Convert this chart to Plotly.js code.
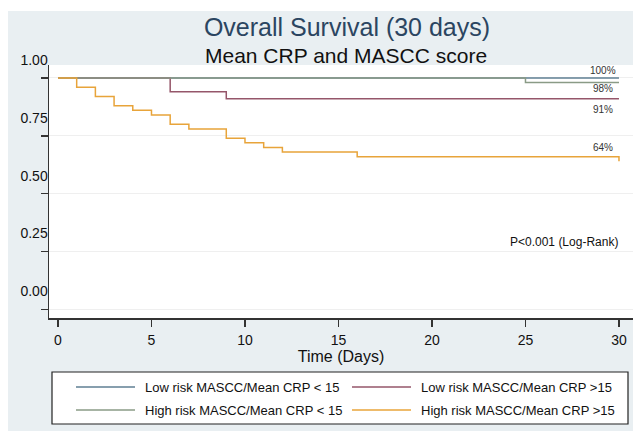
<!DOCTYPE html>
<html>
<head>
<meta charset="utf-8">
<script src="https://cdn.plot.ly/plotly-3.0.1.min.js"></script>
<style>html,body{margin:0;padding:0;background:#fff;}#chart{width:633px;height:431px;}</style>
</head>
<body>
<div id="chart"></div>
<script>
// ---- data ----
var seriesNames = [
  "Low risk MASCC/Mean CRP < 15",
  "Low risk MASCC/Mean CRP >15",
  "High risk MASCC/Mean CRP < 15",
  "High risk MASCC/Mean CRP >15"
];
var lowLowDays = [0, 30];
var lowLowSurv = [1.00, 1.00];
var lowHighDays = [0, 6, 9, 30];
var lowHighSurv = [1.00, 0.94, 0.91, 0.91];
var highLowDays = [0, 25, 30];
var highLowSurv = [1.00, 0.98, 0.98];
var highHighDays = [0, 1, 2, 3, 4, 5, 6, 7, 9, 10, 11, 12, 16, 30];
var highHighSurv = [1.00, 0.96, 0.92, 0.88, 0.86, 0.84, 0.80, 0.78, 0.74, 0.72, 0.70, 0.68, 0.66, 0.64];
var xTicks = [0, 5, 10, 15, 20, 25, 30];
var yTicks = [0, 0.25, 0.5, 0.75, 1];
var yTickText = ["0.00", "0.25", "0.50", "0.75", "1.00"];
var titleText = "Overall Survival (30 days)";
var subtitleText = "Mean CRP and MASCC score";
var xTitle = "Time (Days)";
var pText = "P<0.001 (Log-Rank)";

// ---- styles ----
var colors = ["#5f7f93", "#95566a", "#8a9b86", "#e8a43a"];
var labelShift = [7, -11, -6, 14];
var FONT = "Liberation Sans, Arial, sans-serif";
// legend entry pixel slots (column line start, row centre)
var legCols = [76, 352];
var legRows = [387, 410];

var xs = [lowLowDays, lowHighDays, highLowDays, highHighDays];
var ys = [lowLowSurv, lowHighSurv, highLowSurv, highHighSurv];

var traces = seriesNames.map(function (n, i) {
  return {
    type: "scatter", mode: "lines", name: n,
    x: xs[i], y: ys[i],
    line: {shape: "hv", color: colors[i], width: 1.5},
    hoverinfo: "skip", showlegend: false
  };
});

var W = 633, H = 431, mL = 49, mR = 0, mT = 65, mB = 113;
var pw = W - mL - mR, ph = H - mT - mB;
function px2x(p) { return (p - mL) / pw; }
function py2y(p) { return (H - mB - p) / ph; }

var annotations = [];
ys.forEach(function (arr, i) {
  var last = arr[arr.length - 1];
  annotations.push({
    x: 29.15, y: last, xref: "x", yref: "y",
    text: Math.round(last * 100) + "%", showarrow: false,
    xanchor: "center", yanchor: "middle", yshift: labelShift[i],
    font: {family: FONT, size: 10, color: "#333"}
  });
});
annotations.push({
  x: 30.05, y: 0.29, xref: "x", yref: "y", text: pText, showarrow: false,
  xanchor: "right", yanchor: "middle",
  font: {family: FONT, size: 12, color: "#111"}
});
annotations.push({
  x: px2x(346), y: py2y(55), xref: "paper", yref: "paper", text: subtitleText,
  showarrow: false, xanchor: "center", yanchor: "middle",
  font: {family: FONT, size: 21, color: "#111"}
});

var shapes = [
  // white outer border strips
  {type: "rect", xref: "paper", yref: "paper", x0: px2x(0), x1: px2x(W), y0: py2y(11), y1: py2y(0),
   fillcolor: "#ffffff", line: {width: 0}, layer: "above"},
  {type: "rect", xref: "paper", yref: "paper", x0: px2x(0), x1: px2x(8), y0: py2y(H), y1: py2y(0),
   fillcolor: "#ffffff", line: {width: 0}, layer: "above"},
  // legend box
  {type: "rect", xref: "paper", yref: "paper", x0: px2x(52), x1: px2x(628), y0: py2y(424), y1: py2y(372),
   fillcolor: "#ffffff", line: {width: 1.2, color: "#222"}, layer: "below"}
];

// legend entries (row-wise: 2 columns)
seriesNames.forEach(function (n, i) {
  var cx = legCols[i % 2], cy = legRows[Math.floor(i / 2)];
  shapes.push({
    type: "line", xref: "paper", yref: "paper",
    x0: px2x(cx), x1: px2x(cx + 59), y0: py2y(cy), y1: py2y(cy),
    line: {color: colors[i], width: 1.5}
  });
  annotations.push({
    x: px2x(cx + 67), y: py2y(cy), xref: "paper", yref: "paper", text: n,
    showarrow: false, xanchor: "left", yanchor: "middle",
    font: {family: FONT, size: 13, color: "#111"}
  });
});

var layout = {
  width: W, height: H,
  margin: {l: mL, r: mR, t: mT, b: mB, pad: 0},
  paper_bgcolor: "#e9eff2",
  plot_bgcolor: "#ffffff",
  font: {family: FONT, size: 14, color: "#111"},
  showlegend: false,
  title: {
    text: titleText, xref: "paper", x: px2x(347), xanchor: "center",
    yref: "container", y: 1 - 27 / H, yanchor: "middle",
    font: {family: FONT, size: 25, color: "#2b4561"}
  },
  xaxis: {
    range: [-0.48, 30.75], tickvals: xTicks, ticks: "outside", ticklen: 7, tickwidth: 1.5,
    tickcolor: "#333", showline: true, linecolor: "#333", linewidth: 1.5,
    showgrid: false, zeroline: false, ticklabelstandoff: 2,
    tickfont: {family: FONT, size: 14, color: "#111"},
    title: {text: xTitle, standoff: 0, font: {family: FONT, size: 16, color: "#111"}}
  },
  yaxis: {
    range: [-0.037, 1.056], tickvals: yTicks, ticktext: yTickText,
    ticks: "outside", ticklen: 7, tickwidth: 1.5, tickcolor: "#333",
    showline: true, linecolor: "#333", linewidth: 1.5,
    showgrid: true, gridcolor: "#efefef", gridwidth: 1, zeroline: false,
    ticklabelshift: -18, ticklabelstandoff: -10,
    tickfont: {family: FONT, size: 14, color: "#111"}
  },
  annotations: annotations,
  shapes: shapes
};

Plotly.newPlot("chart", traces, layout, {displayModeBar: false, staticPlot: true});
</script>
</body>
</html>
